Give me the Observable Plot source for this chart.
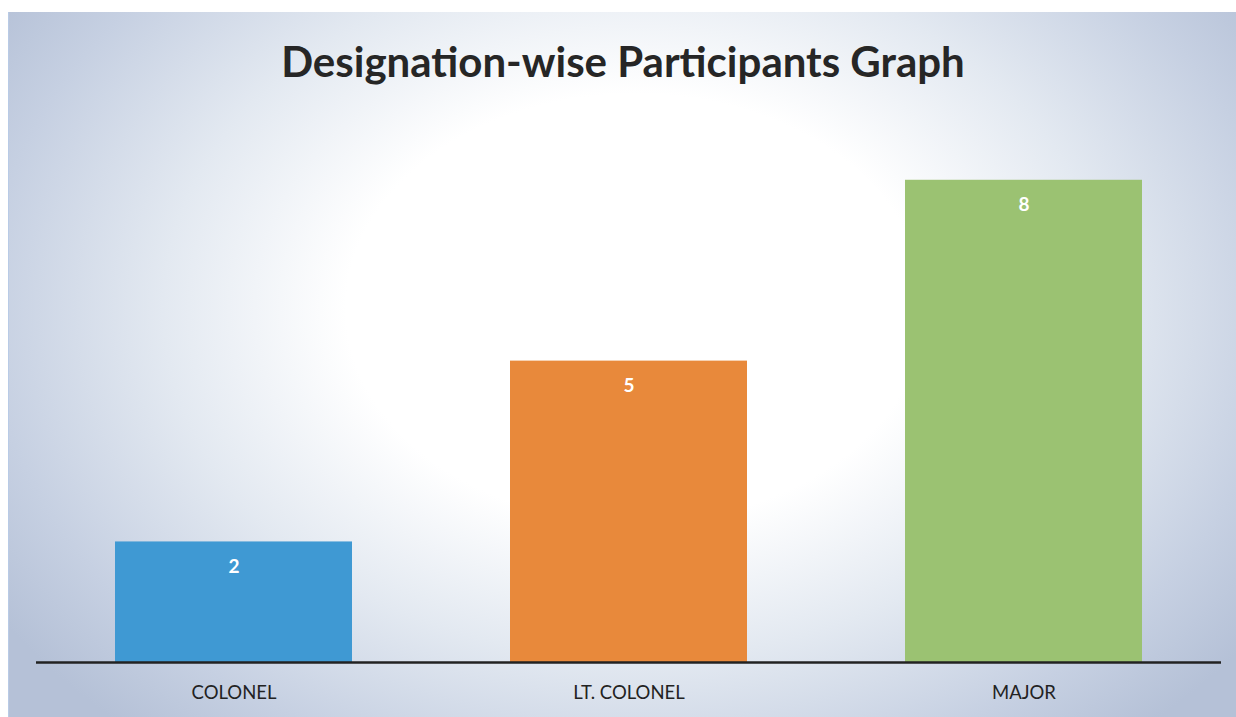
<!DOCTYPE html>
<html>
<head>
<meta charset="utf-8">
<script src="https://cdn.jsdelivr.net/npm/d3@7"></script>
<script src="https://cdn.jsdelivr.net/npm/@observablehq/plot@0.6"></script>
<style>
  html, body { margin: 0; padding: 0; background: #ffffff; }
  #frame {
    position: absolute; left: 8px; top: 12px; width: 1228px; height: 705px;
    background: radial-gradient(ellipse 62% 80% at 51% 42%, #ffffff 0%, #ffffff 38%, #e3e9f1 62%, #c6d0e2 85%, #b5c1d7 100%);
    border-left: 1px solid #b9cbe6;
    overflow: hidden;
  }
  #title {
    height: 90px; line-height: 98px; text-align: center;
    font-family: Lato, "Open Sans", sans-serif; font-weight: 700; font-size: 42px; color: #262626;
  }
</style>
</head>
<body>
<div id="frame">
  <div id="title">Designation-wise Participants Graph</div>
  <div id="chart"></div>
</div>
<script>
const categories = ["COLONEL", "LT. COLONEL", "MAJOR"];
const values = [2, 5, 8];
const colors = ["#3f99d3", "#e8893b", "#9bc272"];

const data = categories.map((c, i) => ({category: c, value: values[i], color: colors[i]}));

const chart = Plot.plot({
  width: 1228,
  height: 615,
  marginTop: 17.5,
  marginBottom: 55,
  marginLeft: 27,
  marginRight: 16,
  style: {background: "transparent", fontFamily: "Lato, 'Open Sans', sans-serif"},
  x: {domain: categories, paddingInner: 0.4, paddingOuter: 0.2, label: null},
  y: {domain: [0, 9], axis: null},
  marks: [
    Plot.barY(data, {x: "category", y: "value", fill: "color"}),
    Plot.text(data, {x: "category", y: "value", text: d => String(d.value), dy: 25, fill: "white", fontWeight: "bold", fontSize: 19}),
    Plot.ruleY([0], {stroke: "#222", strokeWidth: 2.5}),
    Plot.axisX({tickSize: 0, tickPadding: 23, fontSize: 18.5, fill: "#222", label: null})
  ]
});
document.getElementById("chart").appendChild(chart);
</script>
</body>
</html>
